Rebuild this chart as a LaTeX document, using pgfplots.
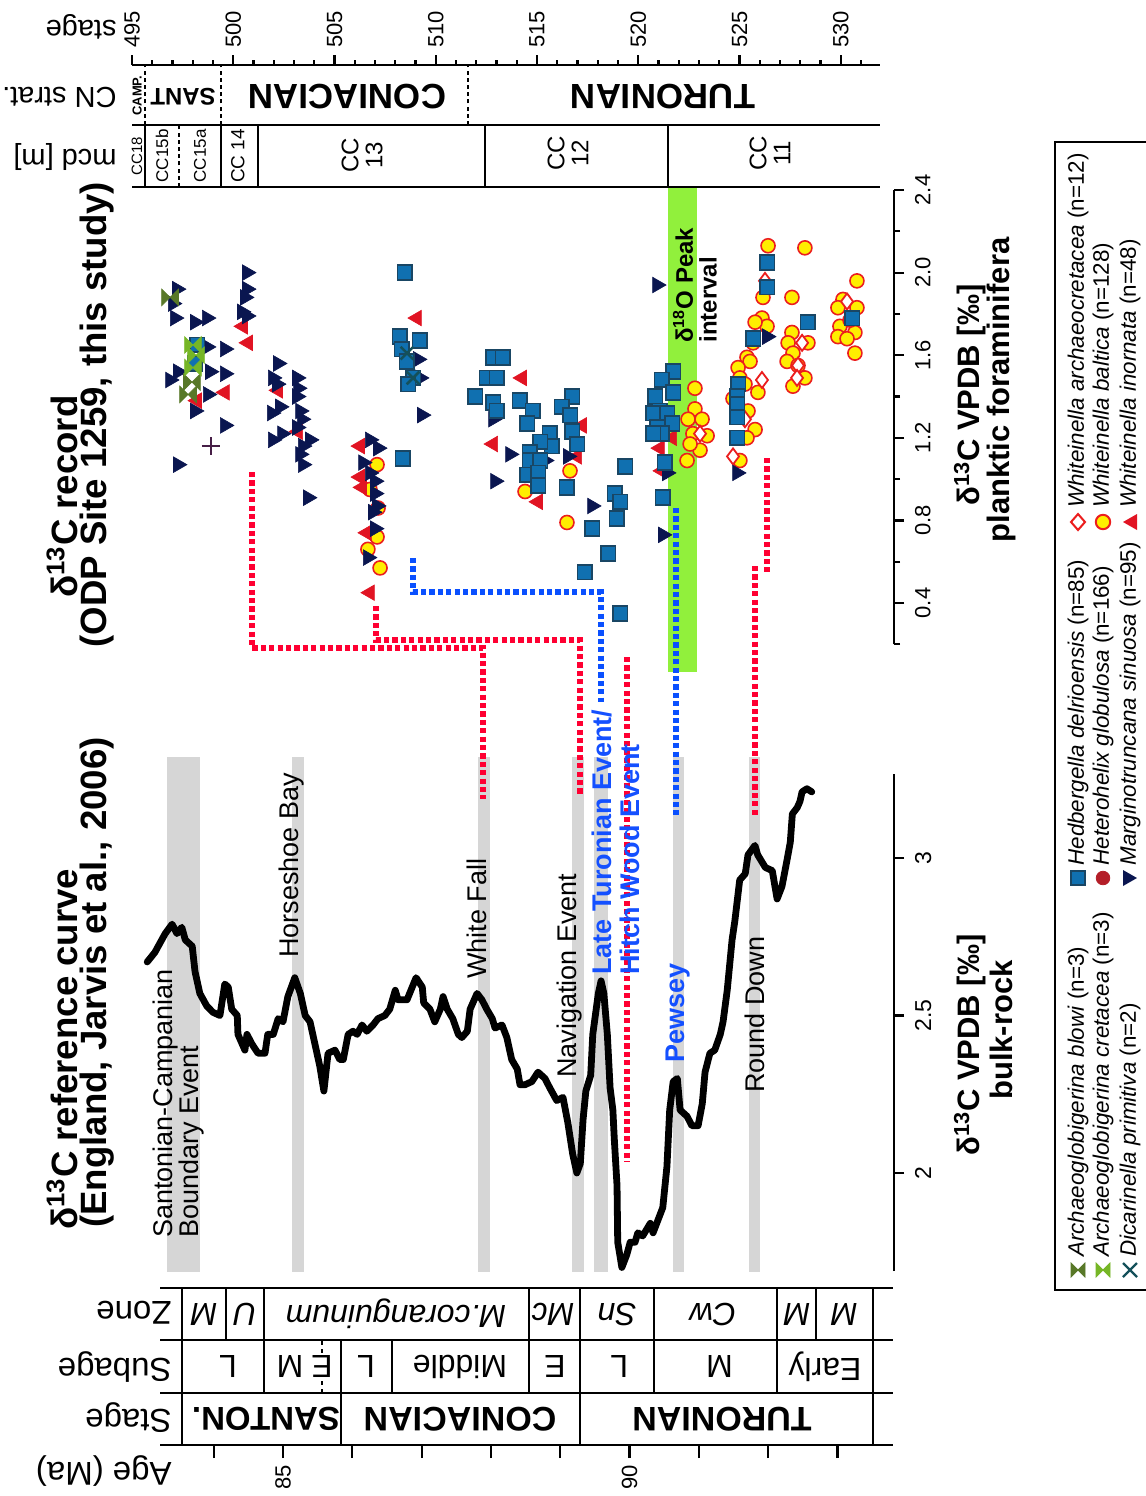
\documentclass[border=0pt]{standalone}
\usepackage{fontspec}
\setmainfont{Liberation Sans}
\usepackage{pgfplots}
\pgfplotsset{compat=1.18}

\definecolor{navytri}{RGB}{10,22,80}
\definecolor{redtri}{RGB}{225,20,35}
\definecolor{sqfill}{RGB}{16,112,176}
\definecolor{sqedge}{RGB}{25,70,100}
\definecolor{ylw}{RGB}{255,238,0}
\definecolor{cedge}{RGB}{235,30,30}
\definecolor{olivem}{RGB}{88,120,40}
\definecolor{lgreen}{RGB}{118,182,38}
\definecolor{tealx}{RGB}{20,80,90}
\definecolor{purp}{RGB}{70,30,70}
\definecolor{hglob}{RGB}{180,30,40}
\definecolor{band}{RGB}{214,214,214}
\definecolor{peak}{RGB}{145,240,60}
\definecolor{evred}{RGB}{255,0,50}
\definecolor{evblue}{RGB}{10,80,255}
\definecolor{lblblue}{RGB}{20,80,255}

\pgfdeclareplotmark{bowtie}{%
  \pgfpathmoveto{\pgfqpoint{-\pgfplotmarksize}{\pgfplotmarksize}}%
  \pgfpathlineto{\pgfqpoint{-\pgfplotmarksize}{-\pgfplotmarksize}}%
  \pgfpathlineto{\pgfqpoint{\pgfplotmarksize}{\pgfplotmarksize}}%
  \pgfpathlineto{\pgfqpoint{\pgfplotmarksize}{-\pgfplotmarksize}}%
  \pgfpathclose
  \pgfusepathqfillstroke}

\newcommand{\fs}[1]{\fontsize{#1}{#1}\selectfont}

\pgfplotsset{
  every tick/.style={black, line width=1.1pt},
  tick label style={/pgf/number format/assume math mode=true},
}

\begin{document}
\begin{tikzpicture}
\path[use as bounding box] (0pt,0pt) rectangle (573pt,-748pt);

%================ bulk-rock reference curve =================
\begin{axis}[at={(70pt,-635.6pt)}, anchor=south west, scale only axis,
  width=377pt, height=248.8pt,
  xmin=82.9365, xmax=93.8167, ymin=1.688, ymax=3.268,
  axis x line=none, axis y line*=right, clip=false,
  ytick={2,2.5,3}, tick align=outside, major tick length=5pt,
  axis line style={line width=1.4pt},
  yticklabel style={rotate=90, anchor=north, font=\fs{11.5}},
  yticklabel shift=2pt]
  \fill[band] (axis cs:83.33,1.686) rectangle (axis cs:83.80,3.321);
  \fill[band] (axis cs:85.13,1.686) rectangle (axis cs:85.30,3.321);
  \fill[band] (axis cs:87.81,1.686) rectangle (axis cs:87.99,3.321);
  \fill[band] (axis cs:89.17,1.686) rectangle (axis cs:89.34,3.321);
  \fill[band] (axis cs:89.49,1.686) rectangle (axis cs:89.69,3.321);
  \fill[band] (axis cs:90.63,1.686) rectangle (axis cs:90.79,3.321);
  \fill[band] (axis cs:91.72,1.686) rectangle (axis cs:91.88,3.321);
  \addplot[black, line width=3.4pt, line join=round, line cap=round, mark=none] coordinates {
(83.04,2.67) (83.15,2.70) (83.30,2.76) (83.40,2.79) (83.47,2.76) (83.54,2.78) (83.59,2.74) (83.69,2.72) (83.73,2.64) (83.80,2.57) (83.90,2.53) (83.99,2.51) (84.09,2.50) (84.16,2.60) (84.21,2.59) (84.26,2.52) (84.34,2.50) (84.35,2.44) (84.45,2.39) (84.48,2.44) (84.55,2.41) (84.64,2.38) (84.74,2.38) (84.78,2.44) (84.86,2.44) (84.93,2.49) (85.00,2.48) (85.07,2.56) (85.17,2.62) (85.25,2.57) (85.32,2.50) (85.39,2.48) (85.46,2.41) (85.53,2.34) (85.59,2.26) (85.65,2.38) (85.75,2.39) (85.82,2.36) (85.87,2.36) (85.94,2.44) (86.01,2.45) (86.07,2.44) (86.14,2.47) (86.21,2.45) (86.30,2.47) (86.37,2.49) (86.47,2.50) (86.54,2.52) (86.62,2.58) (86.66,2.55) (86.79,2.55) (86.92,2.62) (87.01,2.59) (87.03,2.54) (87.12,2.52) (87.19,2.48) (87.27,2.52) (87.31,2.56) (87.37,2.52) (87.45,2.49) (87.53,2.44) (87.58,2.43) (87.66,2.45) (87.70,2.52) (87.80,2.57) (87.87,2.55) (87.94,2.52) (88.02,2.49) (88.06,2.46) (88.16,2.47) (88.23,2.43) (88.30,2.36) (88.38,2.33) (88.42,2.28) (88.49,2.28) (88.59,2.29) (88.68,2.32) (88.78,2.30) (88.85,2.27) (88.95,2.23) (89.04,2.24) (89.11,2.16) (89.18,2.06) (89.24,2.00) (89.29,2.03) (89.33,2.17) (89.37,2.26) (89.44,2.31) (89.47,2.44) (89.55,2.57) (89.59,2.61) (89.63,2.57) (89.68,2.44) (89.72,2.27) (89.76,2.20) (89.78,2.11) (89.82,1.96) (89.83,1.78) (89.89,1.70) (89.96,1.74) (90.01,1.78) (90.08,1.78) (90.12,1.81) (90.19,1.80) (90.30,1.84) (90.34,1.81) (90.41,1.85) (90.48,1.89) (90.54,2.02) (90.58,2.20) (90.63,2.29) (90.69,2.30) (90.73,2.20) (90.83,2.18) (90.90,2.15) (90.99,2.15) (91.05,2.22) (91.09,2.32) (91.16,2.38) (91.23,2.39) (91.31,2.44) (91.35,2.48) (91.41,2.58) (91.48,2.74) (91.52,2.80) (91.59,2.93) (91.67,2.95) (91.71,3.01) (91.81,3.04) (91.85,3.01) (91.96,2.97) (92.06,2.96) (92.13,2.87) (92.20,2.91) (92.27,2.99) (92.32,3.05) (92.35,3.14) (92.42,3.16) (92.46,3.18) (92.49,3.21) (92.56,3.22) (92.63,3.21)
  };
\end{axis}

%================ age axis + stratigraphy (bottom) =================
\begin{axis}[at={(80pt,-722.5pt)}, anchor=south west, scale only axis,
  width=366.5pt, height=78.5pt,
  xmin=83.2251, xmax=93.8023, ymin=0, ymax=3,
  axis x line*=bottom, axis y line=none, clip=false,
  xtick={84,85,86,87,88,89,90,91,92,93}, xticklabels={,85,,,,,90,,,},
  tick align=outside, major tick length=6.5pt,
  axis line style={line width=1pt},
  xticklabel style={rotate=90, anchor=east, font=\fs{11}}]
  \draw[line width=1pt] (axis cs:83.2251,1) -- (axis cs:93.8023,1);
  \draw[line width=1pt] (axis cs:83.2251,2) -- (axis cs:93.8023,2);
  \draw[line width=1pt] (axis cs:83.2251,3) -- (axis cs:93.8023,3);
  \draw[line width=1pt] (axis cs:83.543,0) -- (axis cs:83.543,3);
  \draw[line width=1pt] (axis cs:93.514,0) -- (axis cs:93.514,3);
  % stage row
  \draw[line width=1pt] (axis cs:85.837,0) -- (axis cs:85.837,1);
  \draw[line width=1pt] (axis cs:89.286,0) -- (axis cs:89.286,1);
  % subage row
  \pgfplotsinvokeforeach{84.726,85.837,86.573,88.550,89.286,90.354,92.128}{
    \draw[line width=1pt] (axis cs:#1,1) -- (axis cs:#1,2);}
  \draw[line width=1pt, dash pattern=on 2pt off 2pt] (axis cs:85.563,1) -- (axis cs:85.563,2);
  % zone row
  \pgfplotsinvokeforeach{84.177,84.726,88.550,89.286,90.354,92.128,92.691}{
    \draw[line width=1pt] (axis cs:#1,2) -- (axis cs:#1,3);}
  % stage labels
  \node[rotate=180, font=\bfseries\fs{16.5}] at (axis cs:84.755,0.5) {SANTON.};
  \node[rotate=180, font=\bfseries\fs{17}] at (axis cs:87.554,0.5) {CONIACIAN};
  \node[rotate=180, font=\bfseries\fs{17}] at (axis cs:91.335,0.5) {TURONIAN};
  % subage labels
  \node[rotate=180, font=\fs{16}] at (axis cs:84.206,1.5) {L};
  \node[rotate=180, font=\fs{16}] at (axis cs:85.10,1.5) {M};
  \node[rotate=180, font=\fs{16}, fill=white, inner sep=0.5pt] at (axis cs:85.563,1.5) {E};
  \node[rotate=180, font=\fs{16}] at (axis cs:86.198,1.5) {L};
  \node[rotate=180, font=\fs{16}] at (axis cs:87.554,1.5) {Middle};
  \node[rotate=180, font=\fs{16}] at (axis cs:88.925,1.5) {E};
  \node[rotate=180, font=\fs{16}] at (axis cs:89.85,1.5) {L};
  \node[rotate=180, font=\fs{16}] at (axis cs:91.30,1.5) {M};
  \node[rotate=180, font=\fs{16}] at (axis cs:92.821,1.5) {Early};
  % zone labels
  \node[rotate=180, font=\itshape\fs{16}] at (axis cs:83.86,2.5) {M};
  \node[rotate=180, font=\itshape\fs{16}] at (axis cs:84.452,2.5) {U};
  \node[rotate=180, font=\itshape\fs{16}] at (axis cs:86.63,2.5) {M.coranguinum};
  \node[rotate=180, font=\itshape\fs{16}] at (axis cs:88.896,2.5) {Mc};
  \node[rotate=180, font=\itshape\fs{16}] at (axis cs:89.82,2.5) {Sn};
  \node[rotate=180, font=\itshape\fs{16}] at (axis cs:91.205,2.5) {Cw};
  \node[rotate=180, font=\itshape\fs{16}] at (axis cs:92.417,2.5) {M};
  \node[rotate=180, font=\itshape\fs{16}] at (axis cs:93.10,2.5) {M};
\end{axis}

%================ planktic foraminifera =================
\begin{axis}[at={(66pt,-322.15pt)}, anchor=south west, scale only axis,
  width=381pt, height=227.15pt,
  xmin=495, xmax=532.63, ymin=0.2, ymax=2.4,
  axis x line=none, axis y line*=right, clip=false,
  ytick={0.4,0.8,1.2,1.6,2.0,2.4}, minor ytick={0.2,0.6,1.0,1.4,1.8,2.2},
  tick align=outside, major tick length=5pt, minor tick length=3pt,
  axis line style={line width=1.4pt},
  yticklabel style={rotate=90, anchor=north, font=\fs{11},
    /pgf/number format/.cd, fixed, fixed zerofill, precision=1},
  yticklabel shift=2pt]
  \fill[peak] (axis cs:521.47,0.066) rectangle (axis cs:522.9,2.415);
  % Whiteinella baltica
  \addplot[only marks, mark=*, mark size=3.5pt, mark options={solid, fill=ylw, draw=cedge, line width=0.8pt}] coordinates {
(507.10,1.07) (507.10,0.72) (506.65,0.66) (507.25,0.57) (507.15,0.86) (506.75,0.95) (514.41,0.94) (516.63,1.04) (516.48,0.79) (522.80,1.44) (522.80,1.34) (522.46,1.29) (523.15,1.29) (523.40,1.21) (522.70,1.22) (523.05,1.14) (522.41,1.09) (522.56,1.17) (526.41,2.13) (526.16,1.88) (526.11,1.78) (526.36,1.74) (525.77,1.76) (525.67,1.66) (525.37,1.59) (525.52,1.57) (524.93,1.54) (525.02,1.49) (525.91,1.42) (525.42,1.33) (525.77,1.24) (525.37,1.20) (524.68,1.39) (525.02,1.09) (525.27,1.46) (528.23,2.12) (527.59,1.88) (527.59,1.71) (527.40,1.66) (527.64,1.61) (528.38,1.66) (527.35,1.57) (527.89,1.55) (528.23,1.49) (527.64,1.45) (530.80,1.96) (530.11,1.87) (529.86,1.83) (530.80,1.83) (529.96,1.74) (530.70,1.71) (529.86,1.69) (530.31,1.68) (530.70,1.61) (530.46,1.77)
  };
  % Whiteinella archaeocretacea
  \addplot[only marks, mark=diamond*, mark size=4pt, mark options={solid, fill=white, draw=cedge, line width=0.9pt}] coordinates {
(523.05,1.22) (524.68,1.11) (526.26,1.96) (528.09,1.66) (527.89,1.55) (527.84,1.49) (530.31,1.86) (526.11,1.48) (525.27,1.29)
  };
  % Whiteinella inornata
  \addplot[only marks, mark=triangle*, mark size=4.5pt, mark options={solid, rotate=90, fill=redtri, draw=redtri, line width=0.3pt}] coordinates {
(500.48,1.74) (500.73,1.66) (499.59,1.42) (498.21,1.38) (502.21,1.43) (503.20,1.23) (506.26,1.16) (506.26,1.01) (506.36,0.96) (506.60,0.74) (506.75,0.45) (509.07,1.78) (512.83,1.17) (514.26,1.49) (517.22,1.26) (516.98,1.11) (515.05,0.89) (521.07,1.15) (521.17,1.04) (521.67,1.20)
  };
  % Marginotruncana sinuosa
  \addplot[only marks, mark=triangle*, mark size=4.5pt, mark options={solid, rotate=-90, fill=navytri, draw=navytri, line width=0.3pt}] coordinates {
(497.22,1.92) (497.02,1.85) (497.12,1.78) (498.11,1.76) (498.70,1.78) (498.70,1.64) (499.59,1.63) (496.88,1.48) (497.27,1.52) (498.85,1.52) (499.59,1.51) (498.75,1.41) (498.11,1.33) (499.59,1.26) (497.27,1.07) (500.68,2.00) (500.68,1.92) (500.58,1.88) (500.43,1.81) (500.68,1.79) (502.21,1.56) (501.96,1.49) (502.16,1.46) (503.15,1.49) (503.20,1.44) (503.15,1.40) (502.31,1.35) (501.91,1.32) (503.30,1.33) (503.39,1.29) (503.15,1.25) (502.41,1.22) (501.96,1.19) (503.79,1.19) (503.44,1.16) (503.30,1.12) (503.44,1.07) (503.69,0.91) (506.75,1.19) (507.15,1.15) (506.41,1.08) (506.75,1.03) (507.00,0.99) (507.00,0.93) (507.10,0.87) (506.90,0.84) (507.00,0.76) (506.65,0.62) (509.12,1.58) (509.32,1.31) (509.22,1.49) (512.83,1.29) (512.93,0.99) (513.67,1.12) (515.40,1.09) (516.53,1.11) (517.72,0.87) (520.93,1.94) (521.42,1.03) (521.22,0.73) (526.36,1.69) (524.88,1.03)
  };
  % Hedbergella delrioensis
  \addplot[only marks, mark=square*, mark size=3.7pt, mark options={solid, fill=sqfill, draw=sqedge, line width=0.9pt}] coordinates {
(498.21,1.65) (498.11,1.56) (508.48,2.00) (508.23,1.69) (509.22,1.67) (508.33,1.63) (508.58,1.57) (508.88,1.49) (508.63,1.46) (508.38,1.10) (512.83,1.59) (512.53,1.49) (511.94,1.40) (512.83,1.37) (513.02,1.33) (513.32,1.59) (513.02,1.49) (514.16,1.38) (514.80,1.33) (514.51,1.27) (516.73,1.40) (516.23,1.35) (516.63,1.31) (516.73,1.23) (516.98,1.17) (515.64,1.22) (515.74,1.16) (515.15,1.18) (514.65,1.13) (514.65,1.09) (515.15,1.09) (514.51,1.02) (515.05,1.03) (515.05,0.97) (516.48,0.96) (519.35,1.06) (518.85,0.93) (519.10,0.89) (518.95,0.81) (517.72,0.76) (518.51,0.64) (517.37,0.55) (519.10,0.35) (521.72,1.52) (521.17,1.48) (521.72,1.42) (520.83,1.40) (521.07,1.33) (520.73,1.32) (521.42,1.32) (521.67,1.27) (520.93,1.25) (521.17,1.22) (520.73,1.22) (521.32,1.08) (521.22,0.91) (526.36,2.05) (526.36,1.93) (525.67,1.68) (524.93,1.46) (524.88,1.40) (524.88,1.36) (524.88,1.30) (524.88,1.20) (528.38,1.76) (530.56,1.78)
  };
  % Archaeoglobigerina blowi
  \addplot[only marks, mark=bowtie, mark size=4.2pt, mark options={solid, fill=olivem, draw=olivem, line width=0.3pt}] coordinates {
(496.88,1.88) (497.96,1.47) (497.77,1.41)
  };
  % Archaeoglobigerina cretacea
  \addplot[only marks, mark=bowtie, mark size=4.2pt, mark options={solid, fill=lgreen, draw=lgreen, line width=0.3pt}] coordinates {
(498.01,1.65) (498.01,1.54) (498.16,1.60)
  };
  % Dicarinella primitiva
  \addplot[only marks, mark=x, mark size=4.5pt, mark options={solid, draw=tealx, line width=1.3pt}] coordinates {
(508.58,1.61) (508.88,1.49)
  };
  % other
  \addplot[only marks, mark=+, mark size=4.5pt, mark options={solid, draw=purp, line width=1.2pt}] coordinates {
(498.90,1.16)
  };
\end{axis}

%================ depth axis + CN stratigraphy (top) =================
\begin{axis}[at={(66pt,-93.5pt)}, anchor=south west, scale only axis,
  width=374pt, height=61pt,
  xmin=495, xmax=531.94, ymin=0, ymax=2,
  axis x line*=top, axis y line=none, clip=false,
  xtick={495,500,505,510,515,520,525,530},
  minor xtick={496,497,498,499,501,502,503,504,506,507,508,509,511,512,513,514,516,517,518,519,521,522,523,524,526,527,528,529,531},
  tick align=outside, major tick length=5pt, minor tick length=2.5pt,
  axis line style={line width=1.2pt},
  xticklabel style={rotate=90, anchor=west, font=\fs{11}}]
  \draw[line width=1pt] (axis cs:495,1.0164) -- (axis cs:531.94,1.0164);
  \draw[line width=1pt] (axis cs:495,0) -- (axis cs:531.94,0);
  \pgfplotsinvokeforeach{495.64,499.40,511.59}{
    \draw[line width=1pt, dash pattern=on 2pt off 1.6pt] (axis cs:#1,1.0164) -- (axis cs:#1,2);}
  \pgfplotsinvokeforeach{495.64,499.40,501.22,512.43,521.47}{
    \draw[line width=1pt] (axis cs:#1,0) -- (axis cs:#1,1.0164);}
  \draw[line width=1pt, dash pattern=on 2pt off 1.6pt] (axis cs:497.32,0) -- (axis cs:497.32,1.0164);
  \node[rotate=90, font=\bfseries\fs{6.5}] at (axis cs:495.25,1.50) {CAMP.};
  \node[rotate=180, font=\bfseries\fs{12}] at (axis cs:497.52,1.475) {SANT};
  \node[rotate=180, font=\bfseries\fs{17.5}] at (axis cs:505.62,1.475) {CONIACIAN};
  \node[rotate=180, font=\bfseries\fs{17.5}] at (axis cs:521.22,1.475) {TURONIAN};
  \node[rotate=90, font=\fs{7.5}] at (axis cs:495.25,0.51) {CC18};
  \node[rotate=90, font=\fs{8.5}] at (axis cs:496.48,0.51) {CC15b};
  \node[rotate=90, font=\fs{8.5}] at (axis cs:498.36,0.51) {CC15a};
  \node[rotate=90, font=\fs{9.5}] at (axis cs:500.23,0.51) {CC 14};
  \node[rotate=90, font=\fs{12}, align=center] at (axis cs:506.36,0.52) {CC\\13};
  \node[rotate=90, font=\fs{12}, align=center] at (axis cs:516.53,0.55) {CC\\12};
  \node[rotate=90, font=\fs{12}, align=center] at (axis cs:526.51,0.55) {CC\\11};
\end{axis}

%================ annotations (image pixel coordinates) =================
\begin{scope}[x=0.5pt, y=-0.5pt]
  % connectors
  \begin{scope}[line width=3.4pt, dash pattern=on 2.6pt off 1.6pt]
  \draw[evred] (252,472) -- (252,648) -- (483,648) -- (483,799);
  \draw[evred] (376,606) -- (376,640) -- (580,640) -- (580,795);
  \draw[evred] (627,657) -- (627,1162);
  \draw[evred] (767,458) -- (767,572);
  \draw[evred] (755,566) -- (755,815);
  \draw[evblue] (413,558) -- (413,592) -- (601,592) -- (601,702);
  \draw[evblue] (676,508) -- (676,815);
  \end{scope}
  % delta18O label
  \node[rotate=90, anchor=west, inner sep=0pt, font=\bfseries\fs{12}] at (683,343) {δ\textsuperscript{18}O Peak};
  \node[rotate=90, anchor=west, inner sep=0pt, font=\bfseries\fs{12}] at (708,343) {interval};
  % event labels
  \begin{scope}[every node/.style={rotate=90, anchor=west, inner sep=0pt, font=\fs{13.5}}]
  \node at (166,1238) {Santonian-Campanian};
  \node at (192,1238) {Boundary Event};
  \node at (292,958) {Horseshoe Bay};
  \node at (477,979) {White Fall};
  \node at (570,1078) {Navigation Event};
  \node at (755,1093) {Round Down};
  \node[lblblue, font=\bfseries\fs{13.5}] at (602,975) {Late Turonian Event/};
  \node[lblblue, font=\bfseries\fs{13.5}] at (630,975) {Hitch Wood Event};
  \node[lblblue, font=\bfseries\fs{13.5}] at (678,1063) {Pewsey};
  \end{scope}
  % titles
  \begin{scope}[every node/.style={rotate=90, anchor=west, inner sep=0pt, font=\bfseries\fs{18.3}}]
  \node at (62,1230) {δ\textsuperscript{13}C reference curve};
  \node at (97,1228) {(England, Jarvis et al., 2006)};
  \node at (62,598) {δ\textsuperscript{13}C record};
  \node at (97,648) {(ODP Site 1259, this study)};
  \end{scope}
  % axis titles
  \begin{scope}[every node/.style={rotate=90, inner sep=0pt, font=\bfseries\fs{15.5}}]
  \node at (970,1045) {δ\textsuperscript{13}C VPDB [‰]};
  \node at (1001,1030) {bulk-rock};
  \node at (970,395) {δ\textsuperscript{13}C VPDB [‰]};
  \node at (1001,390) {planktic foraminifera};
  \end{scope}
  % row titles
  \begin{scope}[every node/.style={rotate=180, anchor=west, inner sep=0pt, font=\fs{16.5}}]
  \node at (172,1313) {Zone};
  \node at (172,1367) {Subage};
  \node at (172,1418) {Stage};
  \node at (172,1471) {Age (Ma)};
  \end{scope}
  \begin{scope}[every node/.style={rotate=180, anchor=west, inner sep=0pt, font=\fs{14.5}}]
  \node at (117,27) {stage};
  \node at (117,97) {CN strat.};
  \node at (117,157) {mcd [m]};
  \end{scope}
  % legend
  \draw[line width=1.2pt] (1055,142) rectangle (1170,1290);
  \filldraw[olivem] (1071,1263) -- (1071,1277) -- (1085,1263) -- (1085,1277) -- cycle;
  \filldraw[lgreen] (1096,1263) -- (1096,1277) -- (1110,1263) -- (1110,1277) -- cycle;
  \draw[tealx, line width=1.2pt] (1123,1263) -- (1137,1277) (1123,1277) -- (1137,1263);
  \filldraw[fill=sqfill, draw=sqedge, line width=0.9pt] (1071,871) rectangle (1085,885);
  \filldraw[fill=hglob, draw=hglob] (1103,878) circle (3.4pt);
  \fill[navytri] (1123,870) -- (1137,878) -- (1123,886) -- cycle;
  \draw[cedge, fill=white, line width=1pt] (1078,514) -- (1085,522) -- (1078,530) -- (1071,522) -- cycle;
  \filldraw[fill=ylw, draw=cedge, line width=1pt] (1103,522) circle (3.6pt);
  \fill[redtri] (1137,514) -- (1123,522) -- (1137,530) -- cycle;
  \begin{scope}[every node/.style={rotate=90, anchor=west, inner sep=0pt, font=\fs{11.2}}]
  \node at (1078,1257) {\textit{Archaeoglobigerina blowi} (n=3)};
  \node at (1103,1257) {\textit{Archaeoglobigerina cretacea} (n=3)};
  \node at (1130,1257) {\textit{Dicarinella primitiva} (n=2)};
  \node at (1078,866) {\textit{Hedbergella delrioensis} (n=85)};
  \node at (1103,866) {\textit{Heterohelix globulosa} (n=166)};
  \node at (1130,866) {\textit{Marginotruncana sinuosa} (n=95)};
  \node at (1078,508) {\textit{Whiteinella archaeocretacea} (n=12)};
  \node at (1103,508) {\textit{Whiteinella baltica} (n=128)};
  \node at (1130,508) {\textit{Whiteinella inornata} (n=48)};
  \end{scope}
\end{scope}
\end{tikzpicture}
\end{document}
